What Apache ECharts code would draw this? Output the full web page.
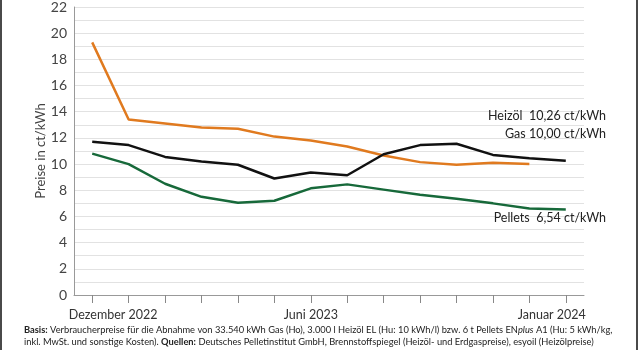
<!DOCTYPE html>
<html>
<head>
<meta charset="utf-8">
<script src="https://cdn.jsdelivr.net/npm/echarts@6/dist/echarts.min.js"></script>
<style>
  html, body { margin: 0; padding: 0; background: #fff; }
  #chart { width: 640px; height: 350px; }
</style>
</head>
<body>
<div id="chart"></div>
<script>
// Monate (Kategorien)
const months = ['Dezember 2022', 'Januar 2023', 'Februar 2023', 'März 2023', 'April 2023', 'Mai 2023',
  'Juni 2023', 'Juli 2023', 'August 2023', 'September 2023', 'Oktober 2023', 'November 2023',
  'Dezember 2023', 'Januar 2024']
const shownLabels = ['Dezember 2022', 'Juni 2023', 'Januar 2024']

// Preise in ct/kWh
const gas = [19.3, 13.4, 13.1, 12.8, 12.7, 12.1, 11.8, 11.35, 10.65, 10.15, 9.95, 10.1, 10.0, null]
const heizoel = [11.7, 11.45, 10.55, 10.2, 9.95, 8.9, 9.35, 9.15, 10.75, 11.45, 11.55, 10.7, 10.45, 10.26]
const pellets = [10.8, 10.0, 8.5, 7.5, 7.05, 7.2, 8.15, 8.45, 8.05, 7.65, 7.35, 7.0, 6.6, 6.54]

const endLabels = [
  { text: 'Heizöl  10,26 ct/kWh', y: 117 },
  { text: 'Gas 10,00 ct/kWh', y: 135 },
  { text: 'Pellets  6,54 ct/kWh', y: 219 }
]

const FONT = 'Lato, "Noto Sans", sans-serif'

const chart = echarts.init(document.getElementById('chart'))

const option = {
  animation: false,
  textStyle: { fontFamily: FONT },
  grid: { left: 74, right: 56, top: 1, bottom: 55 },
  xAxis: {
    type: 'category',
    data: months,
    boundaryGap: true,
    axisLine: { lineStyle: { color: '#999', width: 1 } },
    axisTick: { show: true, alignWithLabel: true, interval: 0, length: 8, lineStyle: { color: '#888', width: 1 } },
    axisLabel: {
      interval: 0,
      margin: 13,
      color: '#333',
      fontSize: 12.5,
      fontFamily: FONT,
      formatter: (v, i) => {
        if (!shownLabels.includes(v)) return ''
        if (i === 0) return '{first|' + v + '}'
        if (i === months.length - 1) return '{last|' + v + '}'
        return v
      },
      rich: {
        first: { fontSize: 12.5, fontFamily: FONT, color: '#333', padding: [0, 0, 0, 42] },
        last: { fontSize: 12.5, fontFamily: FONT, color: '#333', padding: [0, 28, 0, 0] }
      }
    }
  },
  yAxis: {
    type: 'value',
    min: 0,
    max: 22,
    interval: 1,
    name: 'Preise in ct/kWh',
    nameLocation: 'middle',
    nameGap: 27,
    nameMoveOverlap: false,
    nameTextStyle: { color: '#444', fontSize: 13, fontFamily: FONT },
    axisLine: { show: true, lineStyle: { color: '#999' } },
    axisTick: { show: false },
    axisLabel: {
      color: '#444',
      fontSize: 14,
      margin: 7,
      fontFamily: FONT,
      formatter: (v) => v % 2 === 0 ? String(v) : ''
    },
    splitLine: { lineStyle: { color: '#e2e2e2', width: 1 } }
  },
  series: [
    {
      name: 'Gas',
      type: 'line',
      data: gas,
      symbol: 'none',
      lineStyle: { color: '#e07a1f', width: 2.5 }
    },
    {
      name: 'Heizöl',
      type: 'line',
      data: heizoel,
      symbol: 'none',
      lineStyle: { color: '#111111', width: 2.5 }
    },
    {
      name: 'Pellets',
      type: 'line',
      data: pellets,
      symbol: 'none',
      lineStyle: { color: '#17693a', width: 2.5 }
    }
  ],
  graphic: [
    { type: 'rect', z: 100, left: 0, top: 0, shape: { width: 2, height: 350 }, style: { fill: '#4a4a4a' } },
    { type: 'rect', z: 100, left: 636, top: 0, shape: { width: 2, height: 350 }, style: { fill: '#4a4a4a' } },
    ...endLabels.map(l => ({
      type: 'text',
      z: 100,
      right: 34,
      top: l.y - 8,
      style: { text: l.text, fill: '#222', font: '12.5px ' + FONT }
    })),
    {
      type: 'text',
      z: 100,
      left: 24,
      top: 324,
      style: {
        text: '{b|Basis:} Verbraucherpreise für die Abnahme von 33.540 kWh Gas (Ho), 3.000 l Heizöl EL (Hu: 10 kWh/l) bzw. 6 t Pellets EN{i|plus} A1 (Hu: 5 kWh/kg,\ninkl. MwSt. und sonstige Kosten). {b|Quellen:} Deutsches Pelletinstitut GmbH, Brennstoffspiegel (Heizöl- und Erdgaspreise), esyoil (Heizölpreise)',
        fill: '#222',
        font: '9.3px ' + FONT,
        lineHeight: 12,
        rich: {
          b: { fontWeight: 'bold', fontSize: 9.3, fontFamily: FONT, fill: '#222' },
          i: { fontStyle: 'italic', fontSize: 9.3, fontFamily: FONT, fill: '#222' }
        }
      }
    }
  ]
}

chart.setOption(option)
</script>
</body>
</html>
